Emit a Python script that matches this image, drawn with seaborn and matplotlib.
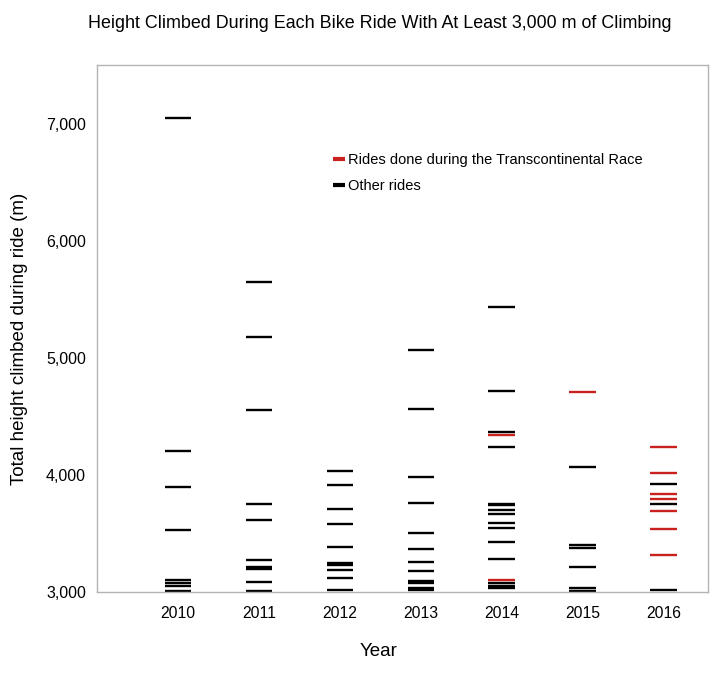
import matplotlib
matplotlib.use("Agg")
import matplotlib.pyplot as plt
from matplotlib.lines import Line2D
import seaborn as sns
import pandas as pd

# ---- data ----
years = [2010, 2011, 2012, 2013, 2014, 2015, 2016]
other_rides = {
    2010: [7050, 4200, 3900, 3530, 3100, 3077, 3050, 3010],
    2011: [5650, 5180, 4555, 3750, 3615, 3275, 3210, 3195, 3085, 3010],
    2012: [4030, 3910, 3710, 3580, 3380, 3245, 3230, 3190, 3120, 3020],
    2013: [5070, 4560, 3980, 3760, 3500, 3370, 3260, 3180, 3090, 3080, 3030, 3015],
    2014: [5430, 4720, 4370, 4240, 3750, 3740, 3700, 3670, 3590, 3550, 3430,
           3280, 3075, 3050, 3030],
    2015: [4070, 3400, 3375, 3210, 3030, 3010],
    2016: [3925, 3750, 3020],
}
tcr_rides = {
    2014: [4340, 3100],
    2015: [4710],
    2016: [4240, 4020, 3840, 3790, 3690, 3540, 3320],
}
label_tcr = "Rides done during the Transcontinental Race"
label_other = "Other rides"
y_ticks = [3000, 4000, 5000, 6000, 7000]
y_tick_labels = ["3,000", "4,000", "5,000", "6,000", "7,000"]

title = "Height Climbed During Each Bike Ride With At Least 3,000 m of Climbing"
x_label = "Year"
y_label = "Total height climbed during ride (m)"

# ---- build table ----
rows = []
for y in years:
    for v in other_rides.get(y, []):
        rows.append({"year": y, "height": v, "type": label_other})
    for v in tcr_rides.get(y, []):
        rows.append({"year": y, "height": v, "type": label_tcr})
df = pd.DataFrame(rows)

sns.set_style("white")
plt.rcParams["font.family"] = ["Liberation Sans", "DejaVu Sans"]
plt.rcParams["text.color"] = "black"

RED = "#c9211e"
GRAY = "#b3b3b3"

fig = plt.figure(figsize=(7.22, 6.78), dpi=100)
ax = fig.add_axes([97 / 722, 1 - 592 / 678, (708 - 97) / 722, (592 - 65) / 678])

sns.scatterplot(data=df, x="year", y="height", hue="type",
                hue_order=[label_other, label_tcr],
                palette={label_other: "black", label_tcr: RED},
                marker="_", s=360, linewidth=1.7, legend=False, ax=ax)

ax.set_xlim(2009, 2016.55)
ax.set_ylim(3000, 7500)
ax.set_xticks(years)
ax.set_xticklabels([str(y) for y in years], fontsize=11.3)
ax.set_yticks(y_ticks)
ax.set_yticklabels(y_tick_labels, fontsize=11.5)
ax.set_xlabel("")
ax.set_ylabel("")
ax.tick_params(axis="both", which="major", direction="out", color=GRAY,
               labelcolor="black", width=1)
ax.tick_params(axis="y", length=4, pad=4)
ax.tick_params(axis="x", length=4, pad=6)
for sp in ax.spines.values():
    sp.set_visible(True)
    sp.set_color(GRAY)
    sp.set_linewidth(1)

handles = [
    Line2D([], [], color=RED, marker="_", linestyle="none", markersize=9, markeredgewidth=3),
    Line2D([], [], color="black", marker="_", linestyle="none", markersize=9, markeredgewidth=3),
]
leg = ax.legend(handles, [label_tcr, label_other], loc="upper left",
                bbox_to_anchor=((333 - 97) / 611, 1 - (153 - 65) / 527),
                frameon=False, fontsize=10.5, handlelength=0.8, handletextpad=0.25,
                labelspacing=0.85, borderpad=0, borderaxespad=0)
for t in leg.get_texts():
    t.set_color("black")

fig.text(379.5 / 722, 1 - 23 / 678, title, ha="center", va="center",
         fontsize=12.9, color="black")
fig.text(379 / 722, 1 - 651 / 678, x_label, ha="center", va="center",
         fontsize=13.5, color="black")
fig.text(20 / 722, 1 - 339 / 678, y_label, ha="center", va="center",
         rotation=90, fontsize=13.5, color="black")

fig.savefig("out.png", dpi=100, facecolor="white")
